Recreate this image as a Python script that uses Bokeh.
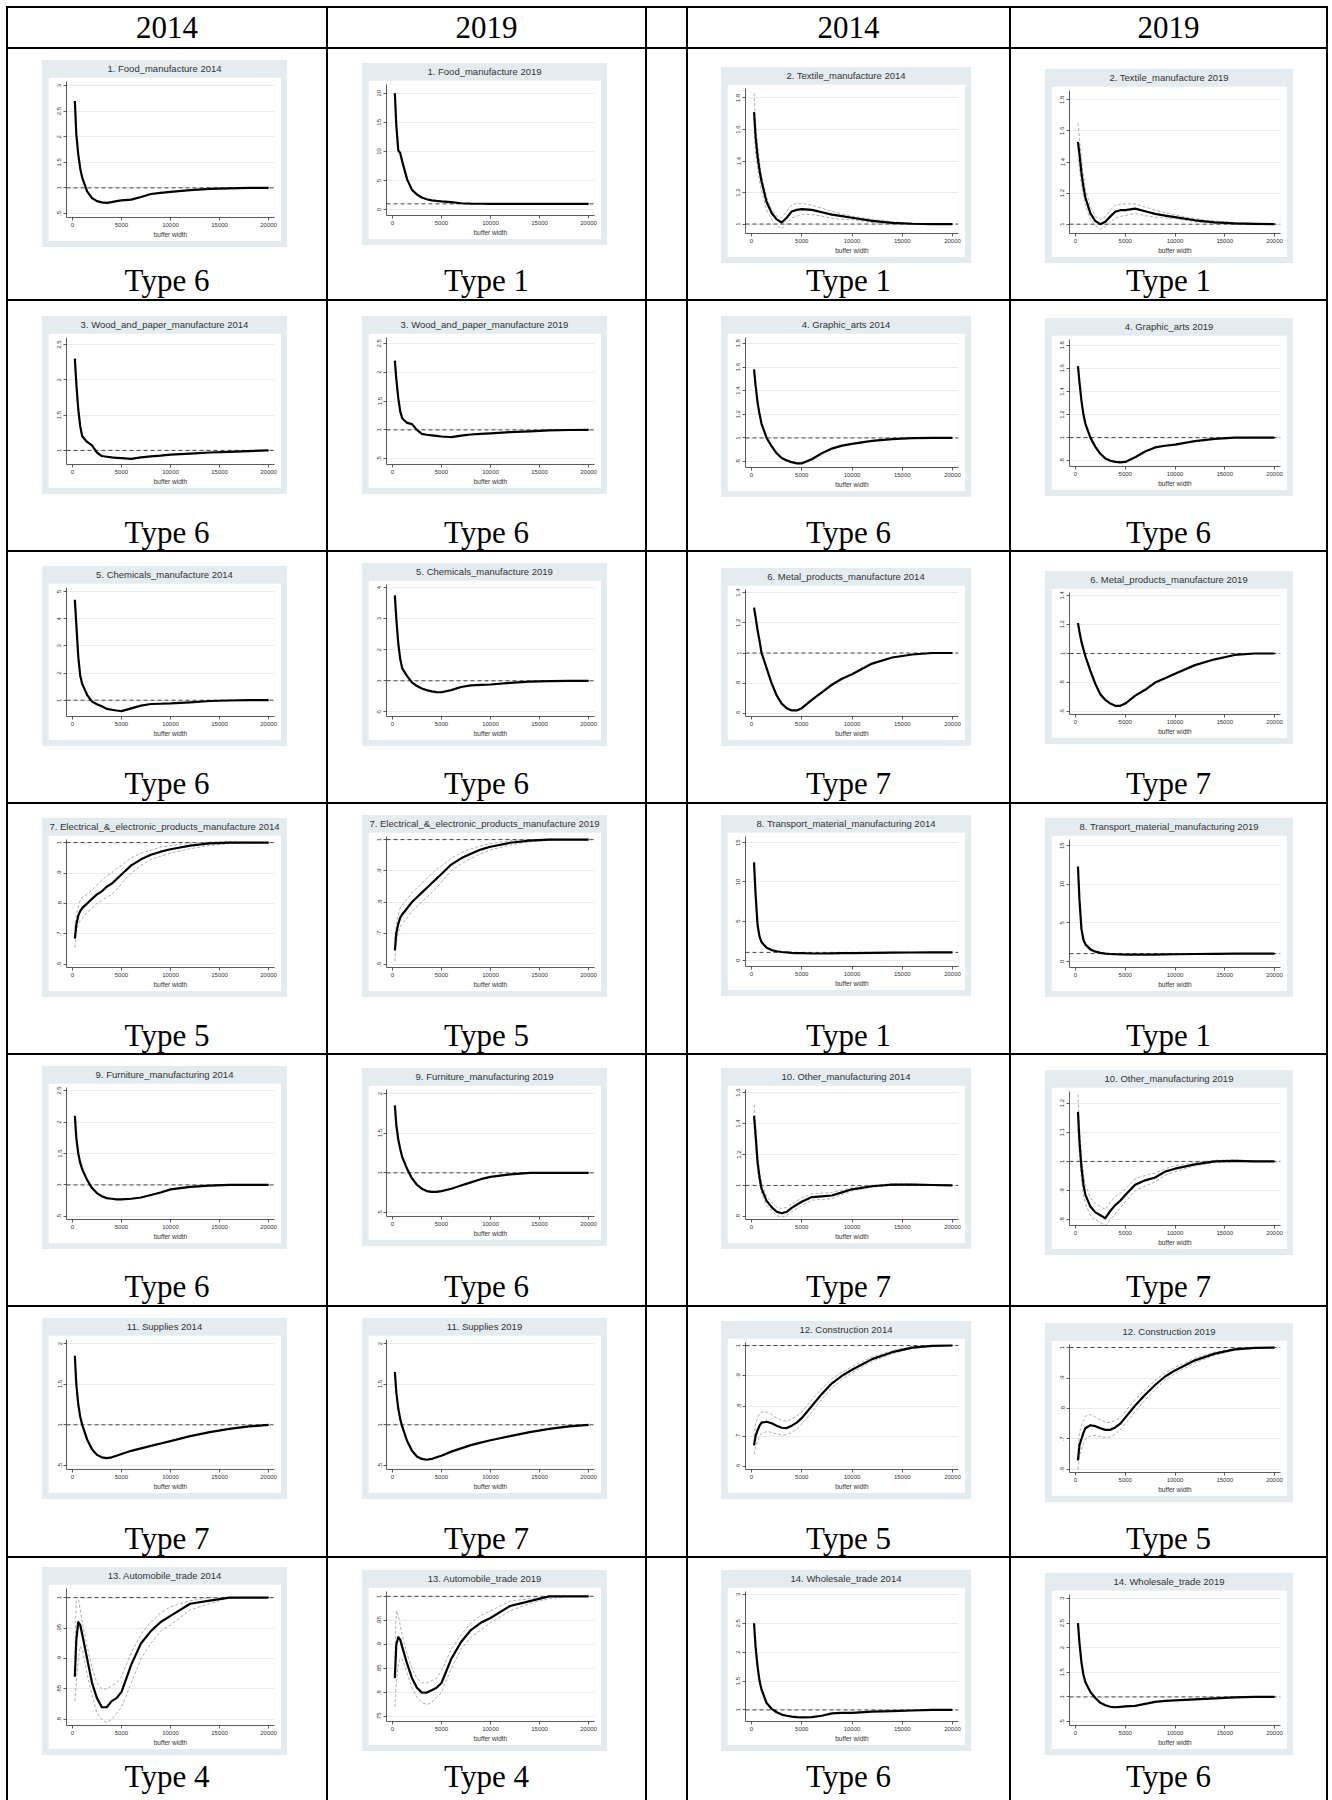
import html
from bokeh.plotting import figure
from bokeh.models import Div, Column, GridBox, Span, Range1d, FixedTicker, CustomJSTickFormatter
from bokeh.embed import file_html
from bokeh.resources import INLINE

# ---------------- data ----------------
X = [250, 400, 600, 800, 1000, 1500, 2000, 2500, 3000, 3500, 4000, 4500, 5000,
     6000, 7000, 8000, 9000, 10000, 12000, 14000, 16000, 18000, 20000]
X_TICKS = [0, 5000, 10000, 15000, 20000]

FOOD_2014 = [2.7, 2.05, 1.65, 1.38, 1.2, 0.93, 0.8, 0.74, 0.715, 0.705, 0.72, 0.74, 0.755, 0.77, 0.82, 0.88, 0.9, 0.92, 0.955, 0.98, 0.99, 1.0, 1.0]
FOOD_2019 = [20.0, 14.5, 10.2, 9.7, 8.3, 5.2, 3.4, 2.6, 2.1, 1.8, 1.6, 1.5, 1.42, 1.3, 1.1, 1.04, 1.02, 1.0, 1.0, 1.0, 1.0, 1.0, 1.0]
TEX_2014 = [1.71, 1.56, 1.43, 1.34, 1.27, 1.14, 1.07, 1.03, 1.01, 1.04, 1.08, 1.09, 1.095, 1.09, 1.075, 1.06, 1.05, 1.04, 1.02, 1.008, 1.002, 1.0, 1.0]
TEX_2014_UP = [1.83, 1.64, 1.5, 1.39, 1.31, 1.17, 1.09, 1.05, 1.04, 1.08, 1.12, 1.13, 1.13, 1.12, 1.1, 1.08, 1.065, 1.05, 1.03, 1.015, 1.005, 1.0, 1.0]
TEX_2014_LO = [1.59, 1.46, 1.35, 1.27, 1.21, 1.09, 1.03, 0.99, 0.97, 1.0, 1.04, 1.05, 1.06, 1.06, 1.05, 1.035, 1.03, 1.028, 1.01, 1.0, 0.997, 1.0, 1.0]
TEX_2019 = [1.53, 1.45, 1.33, 1.24, 1.17, 1.07, 1.02, 1.0, 1.015, 1.05, 1.08, 1.09, 1.09, 1.1, 1.083, 1.066, 1.055, 1.045, 1.025, 1.012, 1.005, 1.002, 1.0]
TEX_2019_UP = [1.65, 1.55, 1.42, 1.31, 1.23, 1.11, 1.05, 1.03, 1.05, 1.09, 1.12, 1.13, 1.13, 1.13, 1.11, 1.09, 1.075, 1.06, 1.035, 1.02, 1.01, 1.005, 1.003]
TEX_2019_LO = [1.42, 1.36, 1.25, 1.18, 1.12, 1.03, 0.99, 0.97, 0.985, 1.01, 1.04, 1.05, 1.055, 1.07, 1.055, 1.045, 1.04, 1.035, 1.015, 1.005, 1.0, 1.0, 0.998]
WOOD_2014 = [2.3, 1.95, 1.58, 1.34, 1.2, 1.12, 1.07, 0.97, 0.92, 0.91, 0.9, 0.895, 0.89, 0.88, 0.9, 0.915, 0.925, 0.94, 0.955, 0.97, 0.98, 0.99, 1.0]
WOOD_2019 = [2.2, 1.88, 1.55, 1.32, 1.2, 1.12, 1.1, 1.0, 0.93, 0.915, 0.905, 0.895, 0.885, 0.875, 0.9, 0.92, 0.93, 0.94, 0.96, 0.975, 0.99, 0.998, 1.0]
GRAPH_2014 = [1.58, 1.45, 1.3, 1.2, 1.12, 1.0, 0.93, 0.87, 0.83, 0.81, 0.795, 0.785, 0.785, 0.82, 0.87, 0.91, 0.935, 0.95, 0.975, 0.99, 0.998, 1.0, 1.0]
GRAPH_2019 = [1.62, 1.48, 1.32, 1.2, 1.12, 1.0, 0.92, 0.86, 0.82, 0.8, 0.79, 0.785, 0.79, 0.83, 0.88, 0.915, 0.93, 0.94, 0.97, 0.99, 1.0, 1.0, 1.0]
CHEM_2014 = [4.7, 3.8, 2.6, 1.9, 1.6, 1.2, 0.95, 0.85, 0.78, 0.68, 0.65, 0.62, 0.6, 0.7, 0.8, 0.86, 0.87, 0.88, 0.92, 0.97, 0.99, 1.0, 1.0]
CHEM_2019 = [3.75, 3.0, 2.2, 1.7, 1.4, 1.15, 0.95, 0.83, 0.75, 0.7, 0.66, 0.635, 0.63, 0.7, 0.8, 0.85, 0.87, 0.88, 0.93, 0.97, 0.99, 1.0, 1.0]
METAL_2014 = [1.3, 1.24, 1.15, 1.08, 1.0, 0.9, 0.8, 0.72, 0.665, 0.635, 0.62, 0.62, 0.635, 0.69, 0.74, 0.79, 0.83, 0.86, 0.93, 0.97, 0.99, 1.0, 1.0]
METAL_2019 = [1.21, 1.15, 1.08, 1.03, 0.98, 0.88, 0.79, 0.72, 0.68, 0.655, 0.64, 0.64, 0.655, 0.71, 0.75, 0.8, 0.83, 0.86, 0.92, 0.96, 0.99, 1.0, 1.0]
ELEC_2014 = [0.685, 0.73, 0.76, 0.775, 0.785, 0.8, 0.815, 0.83, 0.84, 0.855, 0.865, 0.88, 0.895, 0.925, 0.945, 0.96, 0.97, 0.978, 0.99, 0.997, 1.0, 1.0, 1.0]
ELEC_2014_UP = [0.72, 0.76, 0.79, 0.81, 0.82, 0.83, 0.845, 0.86, 0.875, 0.89, 0.9, 0.915, 0.925, 0.95, 0.965, 0.975, 0.985, 0.99, 0.998, 1.002, 1.003, 1.001, 1.0]
ELEC_2014_LO = [0.655, 0.7, 0.73, 0.745, 0.75, 0.77, 0.785, 0.8, 0.81, 0.82, 0.83, 0.845, 0.865, 0.9, 0.925, 0.945, 0.955, 0.965, 0.98, 0.99, 0.997, 1.0, 1.0]
ELEC_2019 = [0.645, 0.7, 0.73, 0.75, 0.76, 0.78, 0.8, 0.815, 0.83, 0.845, 0.86, 0.875, 0.89, 0.92, 0.94, 0.955, 0.968, 0.977, 0.99, 0.997, 1.0, 1.0, 1.0]
ELEC_2019_UP = [0.68, 0.73, 0.76, 0.78, 0.79, 0.81, 0.83, 0.845, 0.86, 0.875, 0.89, 0.905, 0.915, 0.94, 0.958, 0.97, 0.98, 0.987, 0.996, 1.0, 1.002, 1.001, 1.0]
ELEC_2019_LO = [0.61, 0.67, 0.7, 0.72, 0.73, 0.75, 0.77, 0.785, 0.8, 0.815, 0.83, 0.845, 0.865, 0.9, 0.922, 0.94, 0.955, 0.967, 0.983, 0.993, 0.998, 1.0, 1.0]
TRANS_2014 = [12.5, 8.5, 4.5, 3.0, 2.3, 1.6, 1.3, 1.15, 1.05, 1.0, 0.95, 0.92, 0.9, 0.86, 0.86, 0.88, 0.9, 0.92, 0.95, 0.97, 0.99, 1.0, 1.0]
TRANS_2019 = [12.3, 8.0, 4.2, 2.8, 2.2, 1.55, 1.25, 1.1, 1.0, 0.95, 0.92, 0.9, 0.88, 0.86, 0.86, 0.88, 0.9, 0.92, 0.95, 0.97, 0.99, 1.0, 1.0]
FURN_2014 = [2.1, 1.75, 1.5, 1.35, 1.25, 1.08, 0.95, 0.87, 0.82, 0.79, 0.78, 0.77, 0.77, 0.78, 0.8, 0.84, 0.88, 0.93, 0.97, 0.99, 1.0, 1.0, 1.0]
FURN_2019 = [1.85, 1.6, 1.42, 1.3, 1.2, 1.05, 0.93, 0.85, 0.8, 0.77, 0.76, 0.76, 0.77, 0.8, 0.84, 0.88, 0.92, 0.95, 0.98, 1.0, 1.0, 1.0, 1.0]
OTHER_2014 = [1.45, 1.33, 1.15, 1.05, 0.98, 0.9, 0.86, 0.83, 0.82, 0.83, 0.855, 0.875, 0.895, 0.925, 0.93, 0.935, 0.955, 0.975, 0.995, 1.005, 1.005, 1.003, 1.0]
OTHER_2014_UP = [1.52, 1.4, 1.2, 1.09, 1.02, 0.93, 0.89, 0.86, 0.85, 0.86, 0.88, 0.9, 0.92, 0.945, 0.95, 0.955, 0.97, 0.985, 1.002, 1.01, 1.01, 1.006, 1.002]
OTHER_2014_LO = [1.38, 1.27, 1.1, 1.01, 0.95, 0.87, 0.835, 0.805, 0.795, 0.805, 0.83, 0.85, 0.87, 0.905, 0.91, 0.915, 0.94, 0.965, 0.99, 1.0, 1.0, 1.0, 0.998]
OTHER_2019 = [1.17, 1.07, 0.98, 0.92, 0.885, 0.845, 0.825, 0.815, 0.805, 0.83, 0.85, 0.865, 0.885, 0.92, 0.935, 0.945, 0.965, 0.975, 0.99, 1.0, 1.002, 1.0, 1.0]
OTHER_2019_UP = [1.23, 1.12, 1.02, 0.96, 0.92, 0.875, 0.855, 0.845, 0.835, 0.86, 0.88, 0.89, 0.905, 0.94, 0.952, 0.96, 0.975, 0.985, 0.996, 1.004, 1.005, 1.002, 1.0]
OTHER_2019_LO = [1.11, 1.02, 0.94, 0.885, 0.855, 0.815, 0.8, 0.79, 0.78, 0.8, 0.82, 0.84, 0.86, 0.9, 0.915, 0.93, 0.952, 0.965, 0.985, 0.996, 0.999, 0.998, 0.998]
SUP_2014 = [1.85, 1.5, 1.25, 1.1, 1.0, 0.82, 0.7, 0.63, 0.6, 0.59, 0.6, 0.62, 0.64, 0.68, 0.71, 0.74, 0.77, 0.8, 0.86, 0.91, 0.95, 0.98, 1.0]
SUP_2019 = [1.65, 1.4, 1.2, 1.07, 0.98, 0.8, 0.68, 0.61, 0.58, 0.57, 0.58, 0.6, 0.62, 0.67, 0.71, 0.75, 0.78, 0.81, 0.86, 0.91, 0.95, 0.98, 1.0]
CONS_2014 = [0.67, 0.7, 0.72, 0.735, 0.745, 0.748, 0.743, 0.735, 0.728, 0.727, 0.735, 0.745, 0.76, 0.8, 0.84, 0.875, 0.9, 0.92, 0.955, 0.978, 0.993, 0.999, 1.0]
CONS_2014_UP = [0.7, 0.74, 0.76, 0.775, 0.78, 0.78, 0.772, 0.76, 0.752, 0.75, 0.757, 0.767, 0.78, 0.82, 0.858, 0.89, 0.912, 0.93, 0.962, 0.983, 0.996, 1.0, 1.0]
CONS_2014_LO = [0.64, 0.665, 0.685, 0.7, 0.71, 0.715, 0.713, 0.708, 0.704, 0.705, 0.713, 0.724, 0.74, 0.78, 0.822, 0.86, 0.888, 0.91, 0.948, 0.973, 0.99, 0.998, 1.0]
CONS_2019 = [0.63, 0.68, 0.7, 0.72, 0.735, 0.745, 0.742, 0.735, 0.73, 0.73, 0.738, 0.75, 0.77, 0.81, 0.845, 0.877, 0.905, 0.925, 0.958, 0.98, 0.994, 0.999, 1.0]
CONS_2019_UP = [0.66, 0.72, 0.745, 0.76, 0.775, 0.78, 0.772, 0.762, 0.755, 0.754, 0.76, 0.77, 0.79, 0.83, 0.862, 0.892, 0.917, 0.935, 0.965, 0.985, 0.997, 1.0, 1.0]
CONS_2019_LO = [0.6, 0.645, 0.665, 0.685, 0.7, 0.71, 0.712, 0.708, 0.705, 0.706, 0.716, 0.73, 0.75, 0.79, 0.828, 0.862, 0.893, 0.915, 0.95, 0.975, 0.991, 0.998, 1.0]
AUTO_2014 = [0.87, 0.93, 0.96, 0.955, 0.94, 0.9, 0.86, 0.835, 0.82, 0.82, 0.83, 0.835, 0.845, 0.89, 0.925, 0.945, 0.96, 0.97, 0.99, 0.995, 1.0, 1.0, 1.0]
AUTO_2014_UP = [0.9, 1.0, 1.0, 0.98, 0.96, 0.92, 0.885, 0.86, 0.85, 0.85, 0.855, 0.86, 0.87, 0.91, 0.94, 0.96, 0.975, 0.985, 0.995, 1.0, 1.0, 1.0, 1.0]
AUTO_2014_LO = [0.83, 0.86, 0.9, 0.92, 0.915, 0.875, 0.84, 0.81, 0.8, 0.795, 0.8, 0.81, 0.82, 0.86, 0.9, 0.925, 0.945, 0.955, 0.98, 0.99, 1.0, 1.0, 1.0]
AUTO_2019 = [0.83, 0.9, 0.915, 0.91, 0.895, 0.86, 0.83, 0.81, 0.8, 0.8, 0.805, 0.81, 0.82, 0.87, 0.905, 0.93, 0.945, 0.955, 0.98, 0.99, 1.0, 1.0, 1.0]
AUTO_2019_UP = [0.87, 0.97, 0.96, 0.94, 0.92, 0.88, 0.85, 0.83, 0.82, 0.82, 0.825, 0.83, 0.845, 0.89, 0.92, 0.945, 0.96, 0.97, 0.99, 0.995, 1.0, 1.0, 1.0]
AUTO_2019_LO = [0.77, 0.82, 0.86, 0.87, 0.87, 0.84, 0.81, 0.79, 0.78, 0.775, 0.78, 0.79, 0.8, 0.85, 0.89, 0.915, 0.93, 0.945, 0.97, 0.985, 0.995, 1.0, 1.0]
WHOLE_2014 = [2.5, 2.1, 1.75, 1.5, 1.35, 1.12, 1.02, 0.96, 0.92, 0.9, 0.885, 0.875, 0.87, 0.875, 0.9, 0.94, 0.95, 0.95, 0.97, 0.98, 0.99, 1.0, 1.0]
WHOLE_2019 = [2.5, 2.1, 1.7, 1.45, 1.3, 1.1, 0.98, 0.88, 0.83, 0.8, 0.79, 0.8, 0.81, 0.82, 0.86, 0.9, 0.92, 0.93, 0.95, 0.97, 0.99, 1.0, 1.0]

SECTORS = ["1. Food_manufacture", "2. Textile_manufacture", "3. Wood_and_paper_manufacture",
           "4. Graphic_arts", "5. Chemicals_manufacture", "6. Metal_products_manufacture",
           "7. Electrical_&_electronic_products_manufacture", "8. Transport_material_manufacturing",
           "9. Furniture_manufacturing", "10. Other_manufacturing", "11. Supplies",
           "12. Construction", "13. Automobile_trade", "14. Wholesale_trade"]
YEARS = ["2014", "2019"]
TYPES = [[6, 1, 1, 1], [6, 6, 6, 6], [6, 6, 7, 7], [5, 5, 1, 1], [6, 6, 7, 7], [7, 7, 5, 5], [4, 4, 6, 6]]

# series, CI upper, CI lower, y ticks, y range  (one entry per panel, 4 per table row)
SPECS = [
    [(FOOD_2014, None, None, [0.5, 1, 1.5, 2, 2.5, 3], (0.42, 3.08)),
     (FOOD_2019, None, None, [0, 5, 10, 15, 20], (-1.0, 21.5)),
     (TEX_2014, TEX_2014_UP, TEX_2014_LO, [1, 1.2, 1.4, 1.6, 1.8], (0.94, 1.86)),
     (TEX_2019, TEX_2019_UP, TEX_2019_LO, [1, 1.2, 1.4, 1.6, 1.8], (0.94, 1.86))],
    [(WOOD_2014, None, None, [1, 1.5, 2, 2.5], (0.8, 2.6)),
     (WOOD_2019, None, None, [0.5, 1, 1.5, 2, 2.5], (0.4, 2.6)),
     (GRAPH_2014, None, None, [0.8, 1, 1.2, 1.4, 1.6, 1.8], (0.75, 1.85)),
     (GRAPH_2019, None, None, [0.8, 1, 1.2, 1.4, 1.6, 1.8], (0.75, 1.85))],
    [(CHEM_2014, None, None, [1, 2, 3, 4, 5], (0.4, 5.15)),
     (CHEM_2019, None, None, [0, 1, 2, 3, 4], (-0.15, 4.1)),
     (METAL_2014, None, None, [0.6, 0.8, 1, 1.2, 1.4], (0.58, 1.42)),
     (METAL_2019, None, None, [0.6, 0.8, 1, 1.2, 1.4], (0.58, 1.42))],
    [(ELEC_2014, ELEC_2014_UP, ELEC_2014_LO, [0.6, 0.7, 0.8, 0.9, 1], (0.59, 1.01)),
     (ELEC_2019, ELEC_2019_UP, ELEC_2019_LO, [0.6, 0.7, 0.8, 0.9, 1], (0.59, 1.01)),
     (TRANS_2014, None, None, [0, 5, 10, 15], (-0.8, 15.8)),
     (TRANS_2019, None, None, [0, 5, 10, 15], (-0.8, 15.8))],
    [(FURN_2014, None, None, [0.5, 1, 1.5, 2, 2.5], (0.45, 2.55)),
     (FURN_2019, None, None, [0.5, 1, 1.5, 2], (0.45, 2.05)),
     (OTHER_2014, OTHER_2014_UP, OTHER_2014_LO, [0.8, 1, 1.2, 1.4, 1.6], (0.78, 1.62)),
     (OTHER_2019, OTHER_2019_UP, OTHER_2019_LO, [0.8, 0.9, 1, 1.1, 1.2], (0.78, 1.24))],
    [(SUP_2014, None, None, [0.5, 1, 1.5, 2], (0.45, 2.05)),
     (SUP_2019, None, None, [0.5, 1, 1.5, 2], (0.45, 2.05)),
     (CONS_2014, CONS_2014_UP, CONS_2014_LO, [0.6, 0.7, 0.8, 0.9, 1], (0.59, 1.01)),
     (CONS_2019, CONS_2019_UP, CONS_2019_LO, [0.6, 0.7, 0.8, 0.9, 1], (0.59, 1.01))],
    [(AUTO_2014, AUTO_2014_UP, AUTO_2014_LO, [0.8, 0.85, 0.9, 0.95, 1], (0.79, 1.015)),
     (AUTO_2019, AUTO_2019_UP, AUTO_2019_LO, [0.75, 0.8, 0.85, 0.9, 0.95, 1], (0.74, 1.01)),
     (WHOLE_2014, None, None, [1, 1.5, 2, 2.5, 3], (0.8, 3.05)),
     (WHOLE_2019, None, None, [0.5, 1, 1.5, 2, 2.5, 3], (0.42, 3.08))],
]

# ---------------- layout ----------------
COL_W = [318, 317, 39, 321, 315]          # table columns (third is the narrow gap column)
HEADER_H = 39
ROW_H = [250, 249, 250, 249, 250, 249, 242]
PANEL_LEFT = [34, 34, 33, 34]
PANEL_W = [245, 245, 250, 248]
PANEL_TOP = [[11, 14, 18, 20], [15, 15, 15, 17], [14, 11, 16, 19], [14, 11, 11, 14],
             [11, 13, 13, 15], [11, 11, 14, 16], [9, 12, 12, 15]]
PANEL_H = [[187, 182, 196, 194], [178, 178, 181, 178], [180, 183, 178, 173], [179, 182, 181, 179],
           [183, 178, 181, 185], [181, 181, 178, 179], [188, 181, 181, 182]]
LABEL_TOP = [214, 214, 214, 214, 214, 214, 201]
LABEL_H = 36
PANEL_BG = "#e4ecf0"
SERIF = "Liberation Serif"
SANS = "Liberation Sans"

Y_FMT = CustomJSTickFormatter(code="var s = String(tick); if (s.indexOf('0.') === 0) { s = s.substring(1); } return s;")
X_FMT = CustomJSTickFormatter(code="return String(tick);")


def make_panel(title, spec, pw, ph, top, left):
    y, up, lo, yticks, ylim = spec
    fw, fh = pw - 12, ph - 17 - 6
    p = figure(width=fw, height=fh, output_backend="svg", toolbar_location=None,
               x_range=Range1d(-600, 20600), y_range=Range1d(*ylim),
               min_border_left=18, min_border_right=7, min_border_top=4, min_border_bottom=24,
               border_fill_color="white", background_fill_color="white",
               outline_line_color=None, margin=(0, 6, 6, 6))
    p.xaxis.ticker = FixedTicker(ticks=X_TICKS)
    p.xaxis.formatter = X_FMT
    yt = FixedTicker(ticks=yticks)
    p.yaxis.ticker = yt
    p.ygrid.ticker = yt
    p.yaxis.formatter = Y_FMT
    p.yaxis.major_label_orientation = "vertical"
    p.xaxis.axis_label = "buffer width"
    p.xaxis.axis_label_text_font_size = "6.5px"
    p.xaxis.axis_label_text_font_style = "normal"
    p.xaxis.axis_label_text_font = SANS
    p.xaxis.axis_label_text_color = "#333333"
    p.xaxis.axis_label_standoff = 1
    for ax in (p.xaxis, p.yaxis):
        ax.major_label_text_font_size = "6px"
        ax.major_label_text_font = SANS
        ax.major_label_text_color = "#333333"
        ax.major_label_standoff = 2
        ax.major_tick_out = 3
        ax.major_tick_in = 0
        ax.minor_tick_line_color = None
        ax.axis_line_color = "#333333"
        ax.axis_line_width = 0.8
        ax.major_tick_line_color = "#333333"
        ax.major_tick_line_width = 0.8
    p.xgrid.visible = False
    p.ygrid.grid_line_color = "#e4ecef"
    p.ygrid.grid_line_width = 1
    p.add_layout(Span(location=1, dimension="width", line_color="#444444",
                      line_width=1, line_dash="4 3", level="underlay"))
    if up is not None:
        p.line(X, up, line_color="#9a9a9a", line_width=0.8, line_dash="3 2")
        p.line(X, lo, line_color="#9a9a9a", line_width=0.8, line_dash="3 2")
    p.line(X, y, line_color="black", line_width=2.2, line_join="round")

    tdiv = Div(text=html.escape(title), width=pw, height=17, margin=0,
               styles={"text-align": "center", "font-family": SANS, "font-size": "9.5px",
                       "line-height": "18px", "color": "#333333", "white-space": "nowrap"})
    return Column(children=[tdiv, p], width=pw, height=ph, sizing_mode="fixed", spacing=0,
                  margin=(top, 0, 0, left), styles={"background-color": PANEL_BG})


children = []
# header row
hdr = ["2014", "2019", "", "2014", "2019"]
for c, txt in enumerate(hdr):
    children.append((Div(text=txt, width=COL_W[c], height=HEADER_H, margin=0,
                         styles={"background-color": "white", "text-align": "center",
                                 "font-family": SERIF, "font-size": "31px",
                                 "line-height": f"{HEADER_H}px", "color": "black"}), 0, c))

for r in range(7):
    grid_cols = [0, 1, 3, 4]
    for k in range(4):
        sector = SECTORS[2 * r + (k // 2)]
        year = YEARS[k % 2]
        title = f"{sector} {year}"
        pw, ph = PANEL_W[k], PANEL_H[r][k]
        top, left = PANEL_TOP[r][k], PANEL_LEFT[k]
        panel = make_panel(title, SPECS[r][k], pw, ph, top, left)
        gap = LABEL_TOP[r] - top - ph
        cw = COL_W[grid_cols[k]]
        label = Div(text=f"Type {TYPES[r][k]}", width=cw, height=LABEL_H, margin=(gap, 0, 0, 0),
                    styles={"text-align": "center", "font-family": SERIF, "font-size": "31px",
                            "line-height": f"{LABEL_H}px", "color": "black", "white-space": "nowrap"})
        cell = Column(children=[panel, label], width=cw, height=ROW_H[r], sizing_mode="fixed",
                      spacing=0, margin=0,
                      styles={"background-color": "white", "overflow": "hidden"})
        children.append((cell, r + 1, grid_cols[k]))
    children.append((Div(text="", width=COL_W[2], height=ROW_H[r], margin=0,
                         styles={"background-color": "white"}), r + 1, 2))

grid = GridBox(children=children, spacing=2, margin=(6, 0, 0, 6),
               styles={"background-color": "black", "padding": "2px 2px 0px 2px"})

open("out.html", "w").write(file_html(grid, INLINE, title="Type table"))
